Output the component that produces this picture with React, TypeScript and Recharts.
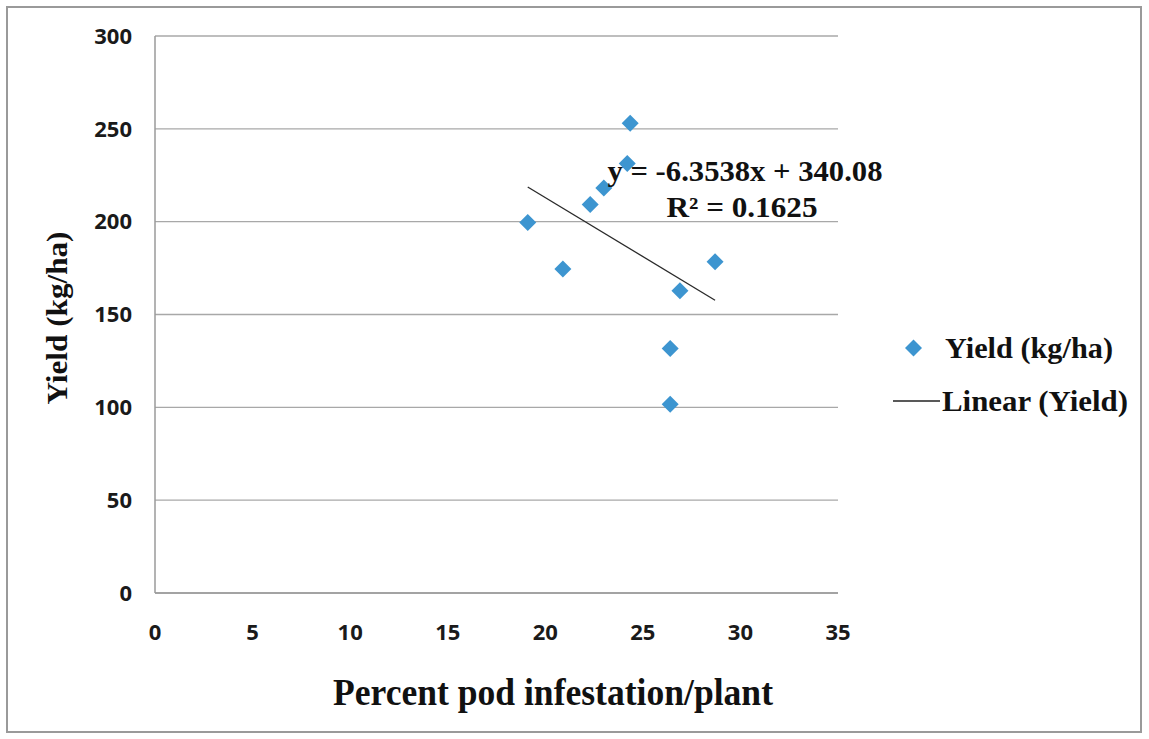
import React from 'react';
import { ScatterChart, Scatter, XAxis, YAxis, CartesianGrid } from 'recharts';

const infestation = [19.1, 20.9, 22.3, 23.0, 24.2, 24.35, 26.9, 28.7, 26.4, 26.4];
const yieldKgHa = [199.5, 174.5, 209.3, 218.2, 231.3, 253, 162.8, 178.4, 131.7, 101.6];
const trendX = [19.1, 28.7];
const trendY = [218.7, 157.7];
const xTicks = [0, 5, 10, 15, 20, 25, 30, 35];
const yTicks = [0, 50, 100, 150, 200, 250, 300];
const seriesName = 'Yield (kg/ha)';
const trendName = 'Linear (Yield)';
const equationText = 'y = -6.3538x + 340.08';
const r2Text = 'R² = 0.1625';
const xTitle = 'Percent pod infestation/plant';
const yTitle = 'Yield (kg/ha)';

const points = infestation.map((x, i) => ({ x, y: yieldKgHa[i] }));
const trend = trendX.map((x, i) => ({ x, y: trendY[i] }));

const BLUE = '#3d95d0';
const SERIF = '"Liberation Serif", "Times New Roman", serif';
const SANS = '"Open Sans", "Liberation Sans", sans-serif';

const Diamond = (props: any) => {
  const { cx, cy } = props;
  const r = 8.5;
  return <path d={`M${cx},${cy - r}L${cx + r},${cy}L${cx},${cy + r}L${cx - r},${cy}Z`} fill={BLUE} />;
};

const NoShape = () => null;

export default function App() {
  return (
    <div style={{ position: 'absolute', left: 0, top: 0, width: 1149, height: 739, background: '#fff' }}>
      <div style={{ position: 'absolute', left: 6, top: 6, width: 1136, height: 727, border: '2px solid #9a9a9a', boxSizing: 'border-box' }} />
      <div style={{ position: 'absolute', left: 0, top: 0 }}>
        <ScatterChart width={1149} height={739} margin={{ top: 36, right: 311, bottom: 96, left: 75 }}>
          <CartesianGrid vertical={false} stroke="#a8a8a8" strokeWidth={1.3} />
          <XAxis
            type="number"
            dataKey="x"
            domain={[0, 35]}
            ticks={xTicks}
            height={50}
            tickLine={false}
            axisLine={{ stroke: '#9a9a9a', strokeWidth: 1.5 }}
            tickMargin={25}
            tick={{ fontFamily: SANS, fontWeight: 'bold', fontSize: 22, fill: '#1a1a1a' }}
            allowDataOverflow
          />
          <YAxis
            type="number"
            dataKey="y"
            domain={[0, 300]}
            ticks={yTicks}
            width={80}
            tickLine={false}
            axisLine={{ stroke: '#9a9a9a', strokeWidth: 1.5 }}
            tickMargin={17}
            tick={{ fontFamily: SANS, fontWeight: 'bold', fontSize: 22, fill: '#1a1a1a' }}
            allowDataOverflow
          />
          <Scatter name={seriesName} data={points} shape={<Diamond />} isAnimationActive={false} />
          <Scatter name={trendName} data={trend} shape={<NoShape />} line={{ stroke: '#2a2a2a', strokeWidth: 1.3 }} isAnimationActive={false} />
        </ScatterChart>
      </div>
      <svg width={1149} height={739} style={{ position: 'absolute', left: 0, top: 0, pointerEvents: 'none' }}>
        <text x={745} y={181} textAnchor="middle" fontFamily={SERIF} fontWeight="bold" fontSize={29} fill="#111" textLength={275} lengthAdjust="spacingAndGlyphs">{equationText}</text>
        <text x={742} y={217} textAnchor="middle" fontFamily={SERIF} fontWeight="bold" fontSize={29} fill="#111" textLength={151} lengthAdjust="spacingAndGlyphs">{r2Text}</text>
        <text x={553} y={705} textAnchor="middle" fontFamily={SERIF} fontWeight="bold" fontSize={38} fill="#111" textLength={440} lengthAdjust="spacingAndGlyphs">{xTitle}</text>
        <text transform="translate(67,318) rotate(-90)" textAnchor="middle" fontFamily={SERIF} fontWeight="bold" fontSize={29} fill="#111" textLength={173} lengthAdjust="spacingAndGlyphs">{yTitle}</text>
        <g>
          <path d="M905,348L913.5,339.5L922,348L913.5,356.5Z" fill={BLUE} />
          <text x={945} y={358} fontFamily={SERIF} fontWeight="bold" fontSize={29} fill="#111" textLength={168} lengthAdjust="spacingAndGlyphs">{seriesName}</text>
          <line x1={893} x2={940} y1={401} y2={401} stroke="#222" strokeWidth={1.3} />
          <text x={942} y={411} fontFamily={SERIF} fontWeight="bold" fontSize={29} fill="#111" textLength={186} lengthAdjust="spacingAndGlyphs">{trendName}</text>
        </g>
      </svg>
    </div>
  );
}
